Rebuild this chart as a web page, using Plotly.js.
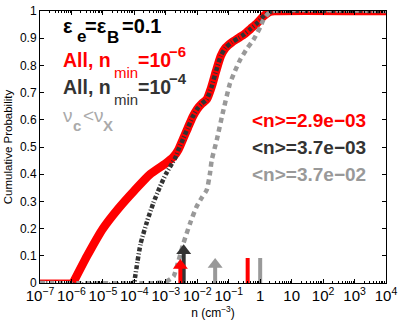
<!DOCTYPE html>
<html>
<head>
<meta charset="utf-8">
<script src="https://cdn.plot.ly/plotly-3.0.1.min.js"></script>
<style>
  html, body { margin: 0; padding: 0; background: #fff; }
  #chart { width: 399px; height: 321px; }
</style>
</head>
<body>
<div id="chart"></div>
<script>
// cumulative distributions, x given as log10(n)
const redLogN = [-5.95, -5.5, -5.0, -4.5, -4.0, -3.5, -3.0, -2.75, -2.6, -2.45, -2.3, -2.15, -2.0, -1.85, -1.7, -1.55, -1.4, -1.25, -1.1, -0.9, -0.7, -0.5, -0.3, -0.1, 0.1, 0.3, 0.45, 4];
const redProb = [0, 0.1, 0.2, 0.275, 0.34, 0.4, 0.44, 0.465, 0.49, 0.53, 0.57, 0.61, 0.64, 0.66, 0.675, 0.72, 0.78, 0.835, 0.865, 0.885, 0.9, 0.915, 0.935, 0.955, 0.98, 0.997, 1, 1];
const redFloorLogN = [-7, -6];
const redFloorProb = [0.01, 0.01];

const blackLogN = [-7, -4.02, -3.98, -3.9, -3.8, -3.6, -3.4, -3.2, -3.0, -2.8, -2.7, -2.6, -2.45, -2.3, -2.15, -2.0, -1.85, -1.7, -1.55, -1.4, -1.25, -1.1, -0.9, -0.7, -0.5, -0.3, -0.1, 0.1, 0.3, 0.45, 4];
const blackProb = [0, 0, 0.02, 0.08, 0.145, 0.225, 0.293, 0.35, 0.4, 0.44, 0.46, 0.49, 0.53, 0.57, 0.61, 0.64, 0.66, 0.675, 0.72, 0.78, 0.835, 0.865, 0.885, 0.9, 0.915, 0.935, 0.955, 0.98, 0.997, 1, 1];

const grayLogN = [-7, -3.3, -3.0, -2.85, -2.75, -2.6, -2.44, -2.23, -2.02, -1.85, -1.7, -1.6, -1.54, -1.38, -1.2, -0.96, -0.8, -0.64, -0.4, -0.22, 0.0, 0.1, 0.25, 0.4, 4];
const grayProb = [0, 0, 0.005, 0.015, 0.025, 0.08, 0.146, 0.219, 0.281, 0.315, 0.342, 0.4, 0.452, 0.526, 0.62, 0.734, 0.78, 0.82, 0.865, 0.893, 0.94, 0.967, 0.99, 1, 1];

// mean densities (arrows) and the two marker bars
const meanN = [2.9e-3, 3.7e-3, 3.7e-2];
const meanLabels = ['<n>=2.9e\u221203', '<n>=3.7e\u221203', '<n>=3.7e\u221202'];
const arrowTop = [0.064, 0.119, 0.068];
const barN = [0.4, 1.0];
const barTop = [0.092, 0.092];

const RED = '#ff0000';
const DARK = '#333333';
const GRAY = '#999999';
const LIGHT = '#aaaaaa';
const FONT = 'Liberation Sans, Arial, sans-serif';

// plot box in pixels, used to place the legend-like texts
const BOX = { l: 40, r: 386, t: 11, b: 283 };

const toN = (arr) => arr.map((d) => Math.pow(10, d));

function arrowTraces(i, color) {
  return [
    { x: [meanN[i], meanN[i]], y: [0, arrowTop[i]], mode: 'lines', line: { color, width: 4 }, hoverinfo: 'skip', showlegend: false },
    { x: [meanN[i]], y: [arrowTop[i]], mode: 'markers', marker: { symbol: 'triangle-up', size: 13, color }, hoverinfo: 'skip', showlegend: false },
  ];
}

function barTrace(i, color) {
  return { x: [barN[i], barN[i]], y: [0, barTop[i]], mode: 'lines', line: { color, width: 4 }, hoverinfo: 'skip', showlegend: false };
}

const traces = [
  { x: toN(redFloorLogN), y: redFloorProb, mode: 'lines', line: { color: RED, width: 1.5 }, showlegend: false },
  { x: toN(redLogN), y: redProb, mode: 'lines', line: { color: RED, width: 8.5, shape: 'spline', smoothing: 0.6 }, showlegend: false },
  { x: toN(blackLogN), y: blackProb, mode: 'lines', line: { color: DARK, width: 4.5, dash: '4px,2px,1px,2px', shape: 'spline', smoothing: 0.6 }, showlegend: false },
  { x: toN(grayLogN), y: grayProb, mode: 'lines', line: { color: GRAY, width: 4.5, dash: '5px,4px', shape: 'spline', smoothing: 0.6 }, showlegend: false },
  ...arrowTraces(1, DARK),
  ...arrowTraces(2, GRAY),
  ...arrowTraces(0, RED),
  barTrace(0, RED),
  barTrace(1, GRAY),
];

// one text piece, given its left edge and baseline in pixels
function piece(text, left, baseline, color, size, bold = true) {
  const mid = baseline - 0.3465 * size;
  return {
    text: bold ? `<b>${text}</b>` : text,
    x: (left - 1 - BOX.l) / (BOX.r - BOX.l),
    y: (BOX.b - mid) / (BOX.b - BOX.t),
    xref: 'paper', yref: 'paper', xanchor: 'left', yanchor: 'middle',
    showarrow: false, font: { family: FONT, size, color },
  };
}

function nminLine(exp, baseline, color) {
  return [
    piece('All, n', 62, baseline, color, 19.5),
    piece('min', 113, baseline + 11, color, 15, false),
    piece('=10', 137, baseline, color, 19.5),
    piece('\u2212' + exp, 168, baseline - 10, color, 15),
  ];
}

const annotations = [
  piece('\u03b5', 62, 33, '#000000', 20),
  piece('e', 76, 42, '#000000', 17),
  piece('=\u03b5', 84, 33, '#000000', 20),
  piece('B', 106, 43, '#000000', 17),
  piece('=0.1', 121, 33, '#000000', 20),
  ...nminLine('6', 67, RED),
  ...nminLine('4', 94, DARK),
  piece('\u03bd', 62, 122, LIGHT, 19, false),
  piece('c', 72, 131, LIGHT, 15),
  piece('<\u03bd', 82, 122, LIGHT, 19, false),
  piece('X', 102, 131, LIGHT, 15),
  ...meanLabels.map((label, i) => piece(label, 251, 127 + i * 27, [RED, DARK, GRAY][i], 19)),
];

const layout = {
  width: 399,
  height: 321,
  margin: { l: 40, r: 13, t: 11, b: 38 },
  paper_bgcolor: '#ffffff',
  plot_bgcolor: '#ffffff',
  font: { family: FONT, size: 12, color: '#000000' },
  xaxis: {
    type: 'log', range: [-7, 4], dtick: 1, exponentformat: 'power',
    showgrid: false, zeroline: false, showline: true, linecolor: '#000', linewidth: 1, mirror: 'ticks',
    ticks: 'inside', ticklen: 4, tickcolor: '#000',
    minor: { ticks: 'inside', ticklen: 2, tickcolor: '#000', showgrid: false },
    tickfont: { family: FONT, size: 12, color: '#000' },
    title: { text: 'n (cm<sup>\u22123</sup>)', font: { family: FONT, size: 12, color: '#000' }, standoff: 4 },
  },
  yaxis: {
    range: [0, 1], dtick: 0.1,
    showgrid: false, zeroline: false, showline: true, linecolor: '#000', linewidth: 1, mirror: 'ticks',
    ticks: 'inside', ticklen: 4, tickcolor: '#000',
    tickfont: { family: FONT, size: 12, color: '#000' },
    title: { text: 'Cumulative Probability', font: { family: FONT, size: 11.5, color: '#000' }, standoff: 4 },
  },
  annotations,
};

Plotly.newPlot('chart', traces, layout, { displayModeBar: false, staticPlot: true });
</script>
</body>
</html>
